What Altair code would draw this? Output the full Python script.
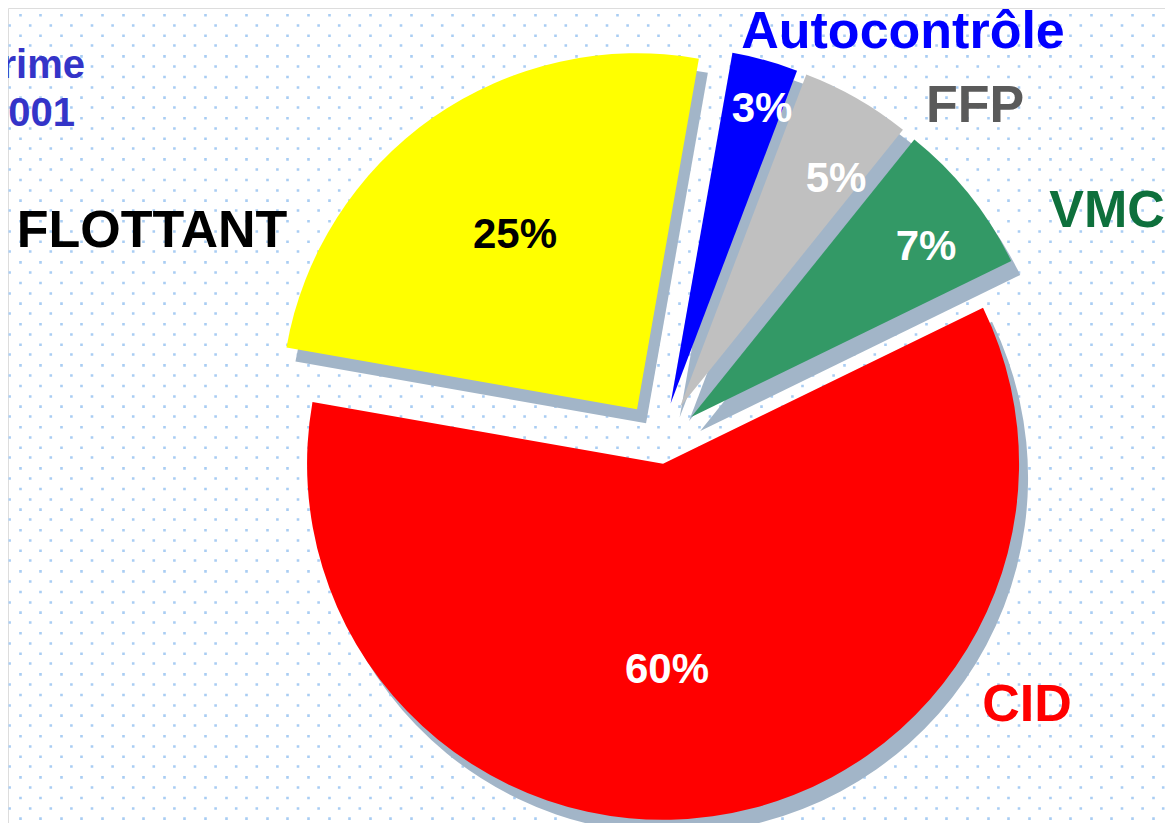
import math
import altair as alt
import pandas as pd

# ---- data ----
categories = ["FLOTTANT", "Autocontrôle", "FFP", "VMC", "CID"]
shares = [25, 3, 5, 7, 60]
pct_labels = ["25%", "3%", "5%", "7%", "60%"]
corner_lines = ["rime", "2001"]

# ---- styles ----
slice_colors = ["#FFFF00", "#0000FF", "#C0C0C0", "#339966", "#FF0000"]
name_colors = ["#000000", "#0000FF", "#5A5A5A", "#0E703C", "#FF0000"]
pct_colors = ["#000000", "#FFFFFF", "#FFFFFF", "#FFFFFF", "#FFFFFF"]
SHADOW_COLOR = "#A2B5C8"
DOT_COLOR = "#A9CDF3"
FONT = "Liberation Sans"

W, H = 1157, 815
CX, CY = 652, 434
R = 356
START_DEG = -80
EXPLODE = {"CID": 22}
EXPLODE_DEFAULT = 40
SHADOW_DX, SHADOW_DY = 9, 14

# text placement (label anchors, baseline)
name_pos = {
    "FLOTTANT": (144, 239),
    "Autocontrôle": (895, 40),
    "FFP": (967, 114),
    "VMC": (1099, 219),
    "CID": (1019, 713),
}
pct_pos = {
    "FLOTTANT": (507, 240),
    "Autocontrôle": (754, 114),
    "FFP": (828, 184),
    "VMC": (918, 252),
    "CID": (659, 675),
}

# ---- build table ----
total = sum(shares)
rows = []
acc = math.radians(START_DEG)
for i, (c, v) in enumerate(zip(categories, shares)):
    span = 2 * math.pi * v / total
    t0, t1 = acc, acc + span
    acc = t1
    mid = (t0 + t1) / 2
    d = EXPLODE.get(c, EXPLODE_DEFAULT)
    rows.append({
        "cat": c, "share": v, "t0": t0, "t1": t1,
        "cx": CX + d * math.sin(mid), "cy": CY - d * math.cos(mid),
        "pct": pct_labels[i],
        "nx": name_pos[c][0], "ny": name_pos[c][1],
        "px": pct_pos[c][0], "py": pct_pos[c][1],
    })
df = pd.DataFrame(rows)

xs = alt.Scale(domain=[0, W], range=[0, W], nice=False, zero=False)
ys = alt.Scale(domain=[0, H], range=[0, H], nice=False, zero=False)

# dotted background through axis grids
step = 20.6
dot = 2.6
xvals = [round(11.5 + step * k, 2) for k in range(int((W - 11.5) / step) + 1)]
yvals = [round(16.7 + step * k, 2) for k in range(int((H - 16.7) / step) + 1)]

xaxis = alt.Axis(orient="top", values=xvals, grid=True, gridColor=DOT_COLOR,
                 gridWidth=dot, gridDash=[dot, step - dot], gridDashOffset=15.2,
                 gridOpacity=1, domain=False, ticks=False, labels=False, title="")
yaxis = alt.Axis(orient="left", values=yvals, grid=True, gridColor=DOT_COLOR,
                 gridWidth=dot, gridDash=[dot, step - dot], gridDashOffset=0.2,
                 gridOpacity=1, domain=False, ticks=False, labels=False, title="")

base = alt.Chart(df)

shadow = base.mark_arc(radius=R, color=SHADOW_COLOR, xOffset=SHADOW_DX, yOffset=SHADOW_DY).encode(
    x=alt.X("cx:Q", scale=xs, axis=xaxis),
    y=alt.Y("cy:Q", scale=ys, axis=yaxis),
    theta=alt.Theta("t0:Q", scale=None),
    theta2="t1:Q",
)

slices = base.mark_arc(radius=R).encode(
    x=alt.X("cx:Q", scale=xs, axis=xaxis),
    y=alt.Y("cy:Q", scale=ys, axis=yaxis),
    theta=alt.Theta("t0:Q", scale=None),
    theta2="t1:Q",
    color=alt.Color("cat:N", scale=alt.Scale(domain=categories, range=slice_colors), legend=None),
)

names = base.mark_text(font=FONT, fontWeight="bold", fontSize=52, align="center",
                       baseline="alphabetic").encode(
    x=alt.X("nx:Q", scale=xs, axis=xaxis),
    y=alt.Y("ny:Q", scale=ys, axis=yaxis),
    text="cat:N",
    color=alt.Color("cat:N", scale=alt.Scale(domain=categories, range=name_colors), legend=None),
)

pcts = base.mark_text(font=FONT, fontWeight="bold", fontSize=42, align="center",
                      baseline="alphabetic").encode(
    x=alt.X("px:Q", scale=xs, axis=xaxis),
    y=alt.Y("py:Q", scale=ys, axis=yaxis),
    text="pct:N",
    color=alt.Color("pct:N", scale=alt.Scale(domain=pct_labels, range=pct_colors), legend=None),
)

corner_df = pd.DataFrame({"t": corner_lines, "x": [77, 67], "y": [70, 118]})
corner = alt.Chart(corner_df).mark_text(font=FONT, fontWeight="bold", fontSize=40,
                                        align="right", baseline="alphabetic",
                                        color="#3434C8").encode(
    x=alt.X("x:Q", scale=xs, axis=xaxis),
    y=alt.Y("y:Q", scale=ys, axis=yaxis),
    text="t:N",
)

chart = alt.layer(shadow, slices, names, pcts, corner).resolve_scale(color="independent").properties(
    width=W, height=H,
    autosize=alt.AutoSizeParams(type="none"),
    padding=0,
).configure_view(stroke="transparent", strokeWidth=0).configure_axis(
    domain=False
).configure(background="white")

chart.save("out.html", embed_options={"renderer": "svg", "actions": False})
